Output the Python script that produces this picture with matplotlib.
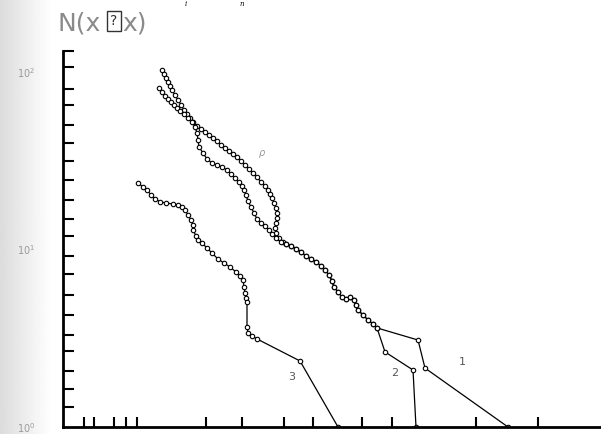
import numpy as np
from matplotlib import pyplot as plt

# curve 3 (x in axis units, y as log10 N)
c3_x = [7.5, 8.0, 8.4, 8.8, 9.2, 9.7, 10.3, 11.0, 11.5, 11.9, 12.2, 12.5, 12.8, 13.0, 13.0,
        13.3, 13.5, 13.9, 14.4, 14.9, 15.5, 16.1, 16.7, 17.3, 17.7, 18.0, 18.1, 18.2, 18.3,
        18.4, 18.4, 18.5, 18.9, 19.4, 23.7, 27.5]
c3_lg = [1.375, 1.352, 1.335, 1.307, 1.285, 1.268, 1.262, 1.256, 1.251, 1.239, 1.223, 1.194,
         1.166, 1.138, 1.110, 1.076, 1.054, 1.037, 1.008, 0.980, 0.946, 0.924, 0.901, 0.873,
         0.851, 0.828, 0.789, 0.755, 0.727, 0.704, 0.563, 0.530, 0.513, 0.496, 0.372, 0.0]

# head of curve 1
c1_head_x = [9.9, 10.1, 10.3, 10.5, 10.7, 10.9, 11.2, 11.5, 11.8, 12.1, 12.4, 12.7, 13.0,
             13.4, 13.8, 14.2, 14.6, 15.0, 15.4, 15.8, 16.2, 16.6, 17.0, 17.4, 17.8, 18.2,
             18.6, 19.0, 19.4, 19.8, 20.2, 20.5, 20.7, 20.9, 21.1, 21.3, 21.4, 21.4, 21.3,
             21.2, 21.3, 21.6, 22.0]
c1_head_lg = [2.011, 1.989, 1.966, 1.944, 1.921, 1.899, 1.870, 1.842, 1.814, 1.786, 1.763,
              1.741, 1.718, 1.696, 1.679, 1.662, 1.645, 1.628, 1.611, 1.589, 1.572, 1.555,
              1.538, 1.521, 1.499, 1.476, 1.454, 1.431, 1.408, 1.380, 1.358, 1.335, 1.313,
              1.290, 1.262, 1.234, 1.206, 1.177, 1.149, 1.121, 1.093, 1.065, 1.042]

# head of curve 2
c2_head_x = [9.6, 9.9, 10.2, 10.5, 10.8, 11.1, 11.4, 11.7, 12.1, 12.5, 12.9, 13.2, 13.4,
             13.5, 13.6, 14.0, 14.4, 14.9, 15.4, 15.9, 16.4, 16.8, 17.2, 17.6, 17.9, 18.1,
             18.3, 18.5, 18.8, 19.1, 19.4, 19.8, 20.2, 20.6, 20.9, 21.3, 21.8]
c2_head_lg = [1.910, 1.887, 1.865, 1.848, 1.831, 1.814, 1.797, 1.780, 1.763, 1.741, 1.718,
              1.690, 1.656, 1.617, 1.577, 1.544, 1.510, 1.487, 1.476, 1.465, 1.448, 1.425,
              1.403, 1.380, 1.358, 1.335, 1.307, 1.273, 1.239, 1.206, 1.172, 1.149, 1.132,
              1.110, 1.087, 1.065, 1.042]

# part shared by curves 1 and 2
mid_x = [22.3, 22.8, 23.3, 23.8, 24.3, 24.8, 25.3, 25.8, 26.2, 26.6, 26.9, 27.1, 27.5, 27.9,
         28.3, 28.7, 29.1, 29.3, 29.5, 30.0, 30.5, 31.0, 31.4]
mid_lg = [1.031, 1.020, 1.003, 0.986, 0.963, 0.946, 0.930, 0.907, 0.885, 0.856, 0.823, 0.789,
          0.761, 0.732, 0.721, 0.732, 0.715, 0.687, 0.659, 0.631, 0.603, 0.580, 0.558]

c1_tail_x = [35.5, 36.2, 44.5]
c1_tail_lg = [0.490, 0.332, 0.0]
c2_tail_x = [32.2, 35.0, 35.3]
c2_tail_lg = [0.423, 0.321, 0.0]

x_ticks = [2.1, 3.1, 5.1, 6.3, 7.4, 14.3, 17.9, 22.1, 25.0, 29.9, 32.9, 41.3, 47.5]
y_ticks_lg = [2.118, 2.028, 1.904, 1.814, 1.701, 1.600, 1.499, 1.392, 1.279, 1.172, 1.076,
              0.963, 0.862, 0.744, 0.631, 0.518, 0.428, 0.315, 0.214, 0.113, 0.0]
y_labels = ["$10^{0}$", "$10^{1}$", "$10^{2}$"]

fig = plt.figure(figsize=(6.01, 4.34), dpi=100)

# scan shadow on the left edge
shade = fig.add_axes([0, 0, 0.085, 1], zorder=-5)
shade.imshow(np.linspace(0.74, 1.0, 60)[None, :] ** 0.5, cmap="gray", vmin=0, vmax=1,
             aspect="auto", extent=(0, 1, 0, 1))
shade.axis("off")

ax = fig.add_axes([63 / 601, 7 / 434, 537 / 601, 376 / 434])
ax.set_facecolor("none")
ax.set_yscale("log")
ax.set_xlim(0, 53.7)
ax.set_ylim(1, 10 ** 2.118)

line_kw = dict(color="black", lw=0.9, marker="o", ms=3.2, mfc="white", mec="black", mew=0.8)
c1_x = c1_head_x + mid_x + c1_tail_x
c1_lg = c1_head_lg + mid_lg + c1_tail_lg
c2_x = c2_head_x + mid_x + c2_tail_x
c2_lg = c2_head_lg + mid_lg + c2_tail_lg
ax.plot(c1_x, 10 ** np.array(c1_lg), **line_kw)
ax.plot(c2_x, 10 ** np.array(c2_lg), **line_kw)
ax.plot(c3_x, 10 ** np.array(c3_lg), **line_kw)

ax.text(39.9, 10 ** 0.366, "1", fontsize=8, color="#555", ha="center", va="center")
ax.text(33.2, 10 ** 0.304, "2", fontsize=8, color="#555", ha="center", va="center")
ax.text(22.9, 10 ** 0.282, "3", fontsize=8, color="#555", ha="center", va="center")
ax.text(19.9, 10 ** 1.544, "ρ", fontsize=7, color="#999", style="italic", ha="center", va="center")

for s in ["top", "right"]:
    ax.spines[s].set_visible(False)
ax.spines["left"].set_linewidth(2.0)
ax.spines["bottom"].set_linewidth(2.0)

ax.set_xticks(x_ticks)
ax.set_xticklabels([])
ax.tick_params(axis="x", direction="in", length=7, width=1.5, which="major")
ax.xaxis.set_minor_locator(plt.NullLocator())

ax.set_yticks([1, 10, 100])
ax.set_yticklabels(y_labels)
ax.set_yticks(10 ** np.array(y_ticks_lg), minor=True)
ax.yaxis.set_minor_formatter(plt.NullFormatter())
ax.tick_params(axis="y", which="major", length=0, pad=20, labelsize=7, labelcolor="#9a9a9a")
ax.tick_params(axis="y", which="minor", direction="in", length=8, width=1.5)

# title with a missing-glyph box
fig.text(58 / 601, 1 - 31 / 434, "N(x", fontsize=18, color="#8a8a8a", va="baseline")
fig.text(114 / 601, 1 - 21 / 434, "?", fontsize=10, color="#333", ha="center", va="center",
         bbox=dict(boxstyle="square,pad=0.25", fc="none", ec="#333", lw=1))
fig.text(122 / 601, 1 - 31 / 434, "x)", fontsize=18, color="#8a8a8a", va="baseline")

# fragments of text at the top edge
fig.text(185 / 601, 1 - 6 / 434, "i", fontsize=5, style="italic", family="serif", va="baseline")
fig.text(240 / 601, 1 - 6 / 434, "n", fontsize=5, style="italic", family="serif", va="baseline")

fig.savefig("out.png", dpi=100)
